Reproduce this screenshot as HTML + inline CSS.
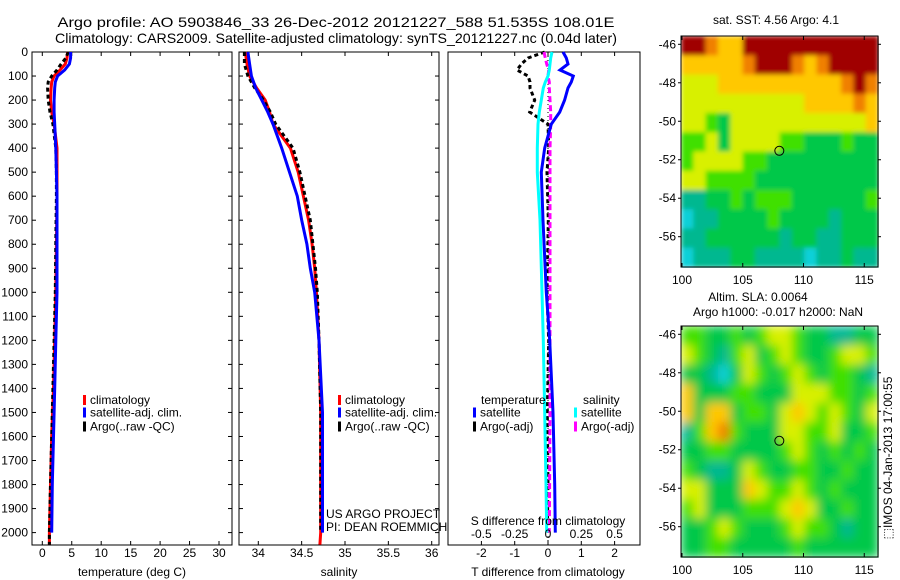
<!DOCTYPE html>
<html><head><meta charset="utf-8"><style>
body{margin:0;background:#fff;}
svg{display:block;font-family:"Liberation Sans",sans-serif;}
</style></head><body>
<svg id="fig" width="900" height="580" viewBox="0 0 900 580" xmlns="http://www.w3.org/2000/svg">
<defs>
<filter id="blurS" x="0" y="0" width="1" height="1"><feGaussianBlur stdDeviation="2.5" edgeMode="duplicate"/></filter>
<filter id="blurL" x="0" y="0" width="1" height="1"><feGaussianBlur stdDeviation="5" edgeMode="duplicate"/></filter>
</defs>
<rect width="900" height="580" fill="#fff"/>
<text x="336" y="27" font-size="14" text-anchor="middle" textLength="557" lengthAdjust="spacingAndGlyphs">Argo profile: AO 5903846_33 26-Dec-2012 20121227_588 51.535S 108.01E</text>
<text x="336" y="43" font-size="14" text-anchor="middle" textLength="562" lengthAdjust="spacingAndGlyphs">Climatology: CARS2009. Satellite-adjusted climatology: synTS_20121227.nc (0.04d later)</text>
<g id="g1"></g>
<g id="g2"></g>
<g id="g3"></g>
<g id="m1"></g>
<g id="m2"></g>
<text transform="translate(892,458) rotate(-90)" font-size="12" text-anchor="middle">⬚IMOS 04-Jan-2013 17:00:55</text>
</svg>
<script>
// ---- data ----
const depths = [0,25,50,75,100,125,150,200,250,300,400,500,600,800,1000,1200,1400,1600,1800,2000,2050];
const tempClim = [4.3,4.2,3.9,3.0,2.0,1.6,1.5,1.4,1.6,2.0,2.5,2.5,2.5,2.4,2.3,2.1,1.9,1.6,1.4,1.2,1.2];
const tempSat  = [4.8,4.8,4.6,3.8,2.6,2.2,2.1,2.0,2.0,2.1,2.3,2.4,2.5,2.5,2.5,2.3,2.1,1.9,1.7,1.6,1.6];
const tempArgo = [4.4,4.0,3.2,2.5,1.6,1.0,0.9,1.0,1.3,1.8,2.3,2.4,2.4,2.3,2.2,2.0,1.8,1.6,1.4,1.2,1.2];
const salDepths = [0,50,100,150,200,250,300,400,500,600,700,800,900,1000,1200,1500,1800,2000,2050];
const salClim = [33.85,33.87,33.9,33.98,34.08,34.13,34.17,34.37,34.46,34.52,34.58,34.62,34.65,34.67,34.70,34.72,34.72,34.72,34.71];
const salSat  = [33.88,33.9,33.92,33.97,34.04,34.11,34.17,34.27,34.36,34.45,34.5,34.56,34.6,34.65,34.7,34.74,34.74,34.74,34.74];
const salArgo = [33.84,33.84,33.88,33.96,34.06,34.14,34.2,34.4,34.48,34.54,34.6,34.63,34.66,34.68,34.7,34.72,34.72,34.72,34.72];
const diffDepths = [0,25,50,75,100,125,150,200,250,300,400,500,700,1000,1200,1500,1800,2000];
const tDiffSat  = [0.45,0.55,0.6,0.36,0.76,0.7,0.6,0.5,0.35,0.1,-0.1,-0.2,-0.15,-0.05,0.05,0.15,0.2,0.22];
const tDiffArgo = [-0.1,-0.6,-0.8,-0.93,-0.6,-0.54,-0.54,-0.4,-0.55,0,0.02,-0.03,0.01,-0.03,0.02,-0.02,0,-0.02];
const sDiffSat  = [0.03,0.02,0.015,0.01,0,-0.02,-0.035,-0.05,-0.065,-0.075,-0.08,-0.08,-0.06,-0.045,-0.035,-0.025,-0.015,-0.01];
const sDiffArgo = [-0.03,-0.02,-0.01,0.005,0,0.01,0.01,0.015,0.02,0.02,0.015,0.015,0.015,0.015,0.015,0.015,0.012,0.01];
const depthTicks = [0,100,200,300,400,500,600,700,800,900,1000,1100,1200,1300,1400,1500,1600,1700,1800,1900,2000];
const tempTicks = [0,5,10,15,20,25,30];
const salTicks = ["34","34.5","35","35.5","36"];
const tDiffTicks = [-2,-1,0,1,2];
const sDiffTicks = ["-0.5","-0.25","0","0.25","0.5"];
const lonTicks = [100,105,110,115];
const latTicks = [-46,-48,-50,-52,-54,-56];
const sstGrid = [
[9,9,8,7,7,9,9,9,9,9,9,9,9,9,9,9],
[7,7,7,7,7,8,9,9,9,8,7,8,9,9,9,9],
[6,6,6,7,7,7,7,7,7,7,7,7,7,8,9,8],
[6,6,6,6,6,6,6,6,6,6,7,7,7,7,8,7],
[6,6,5,4,6,6,6,6,6,6,6,6,6,6,6,7],
[5,5,6,4,6,6,6,6,5,5,4,4,4,5,4,4],
[5,6,6,6,6,5,5,4,4,4,4,4,4,4,4,4],
[6,6,5,5,5,5,4,4,4,4,4,4,4,4,4,4],
[3,3,4,4,5,4,5,5,5,4,4,4,4,4,4,5],
[2,3,3,4,4,4,4,5,4,4,4,4,3,4,4,4],
[3,3,4,4,4,4,4,4,3,4,4,3,3,4,4,4],
[2,3,3,3,4,4,3,3,3,3,2,3,3,4,3,3]];
const slaGrid = [
[5,5,4,4,5,4,5,6,6,5,4,4,3,3,4,4],
[6,5,4,3,5,6,4,5,6,5,4,4,5,6,6,5],
[4,4,3,2,4,6,5,4,5,6,5,4,5,5,4,3],
[7,4,4,4,5,5,4,4,4,6,6,6,5,5,4,5],
[7,4,7,7,4,5,5,4,6,7,6,5,6,5,4,6],
[3,5,7,8,5,4,4,4,6,6,5,5,6,4,4,5],
[4,4,5,5,4,4,4,4,5,6,5,4,5,4,5,4],
[5,4,3,3,4,6,5,4,4,5,5,4,4,5,4,4],
[6,6,4,4,4,7,6,5,5,6,5,4,5,4,4,4],
[5,6,4,4,4,5,5,5,6,7,6,4,4,5,4,4],
[4,4,5,6,5,4,4,4,5,6,5,5,4,3,4,4],
[4,4,5,5,4,4,4,4,4,5,4,4,4,4,4,4]];
const palette = ["#0060ff","#00a0ff","#10d0d8","#00b890","#00c848","#40e000","#d8f000","#ffc800","#f08000","#a00000"];

const NS="http://www.w3.org/2000/svg";
function mk(parent,tag,attrs,text){const e=document.createElementNS(NS,tag);for(const k in attrs)e.setAttribute(k,attrs[k]);if(text!==undefined)e.textContent=text;parent.appendChild(e);return e;}
const Y = d => 52 + d*0.2403;
const TOP=52,BOT=545;

function box(g,x0,x1,y0,y1){
  const r=mk(g,'rect',{x:x0,y:y0,width:x1-x0,height:y1-y0,fill:'none',stroke:'#000','stroke-width':1});
  
  
}
function depthAxis(g,x0,x1,labels){
  depthTicks.forEach(d=>{
    const y=Y(d);
    mk(g,'line',{x1:x0,x2:x0+4,y1:y,y2:y,stroke:'#000'});
    mk(g,'line',{x1:x1,x2:x1-4,y1:y,y2:y,stroke:'#000'});
    if(labels){const t=mk(g,'text',{x:x0-4,y:y+4,'font-size':12,'text-anchor':'end'},String(d));
      
      }
  });
}
function xTicks(g,vals,X,ylab,both){
  vals.forEach(v=>{const x=X(+v);
    mk(g,'line',{x1:x,x2:x,y1:BOT,y2:BOT-4,stroke:'#000'});
    if(both) mk(g,'line',{x1:x,x2:x,y1:TOP,y2:TOP+4,stroke:'#000'});
    if(ylab){const t=mk(g,'text',{x:x,y:ylab,'font-size':12,'text-anchor':'middle'},String(v));
      
      }
  });
}
function line(g,xs,ds,X,color,name,dash,w){
  const n=Math.min(xs.length,ds.length);
  const p=xs.slice(0,n).map((v,i)=>(i?'L':'M')+X(v).toFixed(1)+','+Y(ds[i]).toFixed(1)).join(' ');
  const e=mk(g,'path',{d:p,fill:'none',stroke:color,'stroke-width':w||3});
  if(dash)e.setAttribute('stroke-dasharray',dash);
  
  
}
function legend(g,x,items){
  items.forEach((it,i)=>{
    const y=[400,412.5,426.5][i];
    mk(g,'rect',{x:x,y:y-5,width:3,height:10,fill:it[0]});
    const t=mk(g,'text',{x:x+7,y:y+4,'font-size':12},it[1]);
    
    
  });
}
// panel 1
{const g=document.getElementById('g1');const X=v=>42.3+v*5.89;
 box(g,32,232,TOP,BOT);depthAxis(g,32,232,true);xTicks(g,tempTicks,X,557,true);
 line(g,tempClim,depths,X,'#ff0000','temp-climatology-line');
 line(g,tempArgo,depths,X,'#000','temp-argo-line','4 3');
 line(g,tempSat.slice(0,20),depths.slice(0,20),X,'#0000ff','temp-satellite-line');
 legend(g,83,[['#f00','climatology'],['#00f','satellite-adj. clim.'],['#000','Argo(..raw -QC)']]);
 const t=mk(g,'text',{x:132,y:576,'font-size':12,'text-anchor':'middle'},'temperature (deg C)');
 }
// panel 2
{const g=document.getElementById('g2');const X=v=>258.3+(v-34)*86.7;
 box(g,239,439,TOP,BOT);depthAxis(g,239,439,false);xTicks(g,salTicks,X,557,true);
 line(g,salClim,salDepths,X,'#ff0000','sal-climatology-line');
 line(g,salArgo.slice(0,18),salDepths.slice(0,18),X,'#000','sal-argo-line','4 3');
 line(g,salSat.slice(0,18),salDepths.slice(0,18),X,'#0000ff','sal-satellite-line');
 legend(g,338,[['#f00','climatology'],['#00f','satellite-adj. clim.'],['#000','Argo(..raw -QC)']]);
 let t=mk(g,'text',{x:326,y:518,'font-size':12},'US ARGO PROJECT');
 t=mk(g,'text',{x:326,y:531,'font-size':12},'PI: DEAN ROEMMICH');
 t=mk(g,'text',{x:339,y:576,'font-size':12,'text-anchor':'middle'},'salinity');}
// panel 3
{const g=document.getElementById('g3');const XT=v=>548+v*33.3;const XS=v=>548+v*133.3;
 box(g,448,640,TOP,BOT);
 xTicks(g,tDiffTicks,XT,557,true);
 mk(g,'line',{x1:548,x2:548,y1:TOP,y2:BOT,stroke:'#000','stroke-dasharray':'1 3'});
 line(g,tDiffArgo,diffDepths,XT,'#000','tdiff-argo-line','4 3');
 line(g,sDiffArgo,diffDepths,XS,'#ff00ff','sdiff-argo-line','6 3');
 line(g,sDiffSat,diffDepths,XS,'#00ffff','sdiff-satellite-line');
 line(g,tDiffSat,diffDepths,XT,'#0000ff','tdiff-satellite-line');
 sDiffTicks.forEach(v=>{const t=mk(g,'text',{x:XS(+v),y:538,'font-size':12,'text-anchor':'middle'},v);});
 let t=mk(g,'text',{x:548,y:525,'font-size':12,'text-anchor':'middle'},'S difference from climatology');
 t=mk(g,'text',{x:548,y:576,'font-size':12,'text-anchor':'middle'},'T difference from climatology');
 t=mk(g,'text',{x:481,y:404,'font-size':12},'temperature');
 t=mk(g,'text',{x:583,y:404,'font-size':12},'salinity');
 [[473,'#00f','satellite',412.5],[473,'#000','Argo(-adj)',426.5],[574,'#0ff','satellite',412.5],[574,'#f0f','Argo(-adj)',426.5]].forEach(a=>{
   mk(g,'rect',{x:a[0],y:a[3]-5,width:3,height:10,fill:a[1]});
   const e=mk(g,'text',{x:a[0]+7,y:a[3]+4,'font-size':12},a[2]);
 });}
// maps
function map(id,grid,y0,y1,lat46,lat56,titles,filt){
  const g=document.getElementById(id);
  const LX=v=>682+(v-100)*12.15;const LY=v=>lat46+(v+46)*(lat56-lat46)/(-10);
  const x0=681,x1=878;
  const rows=grid.length,cols=grid[0].length;
  const cw=(x1-x0)/cols,ch=(y1-y0)/rows;
  const cg=mk(g,'g',{filter:'url(#'+filt+')'});
  
  
  grid.forEach((row,r)=>row.forEach((v,c)=>{
    const cell=mk(cg,'rect',{x:(x0+c*cw).toFixed(2),y:(y0+r*ch).toFixed(2),width:(cw+0.6).toFixed(2),height:(ch+0.6).toFixed(2),fill:palette[v]});
    
    
  }));
  mk(g,'rect',{x:x0,y:y0,width:x1-x0,height:y1-y0,fill:'none',stroke:'#000'});
  lonTicks.forEach(v=>{const x=LX(v);mk(g,'line',{x1:x,x2:x,y1:y1,y2:y1-4,stroke:'#000'});mk(g,'line',{x1:x,x2:x,y1:y0,y2:y0+4,stroke:'#000'});
    const t=mk(g,'text',{x:x,y:y1+17,'font-size':12,'text-anchor':'middle'},String(v));});
  latTicks.forEach(v=>{const y=LY(v);mk(g,'line',{x1:x0,x2:x0-3,y1:y,y2:y,stroke:'#000'});mk(g,'line',{x1:x1,x2:x1+3,y1:y,y2:y,stroke:'#000'});
    const t=mk(g,'text',{x:x0-5,y:y+4,'font-size':12,'text-anchor':'end'},String(v));});
  const m=mk(g,'circle',{cx:LX(108.01),cy:LY(-51.535),r:4.5,fill:'none',stroke:'#000','stroke-width':1});
  
  titles.forEach(tt=>{const t=mk(g,'text',{x:tt[1],y:tt[2],'font-size':12,'text-anchor':'middle'},tt[0]);});
}
map('m1',sstGrid,36,267,44.3,236.7,[['sat. SST: 4.56 Argo: 4.1',776,24]],'blurS');
map('m2',slaGrid,326,557,334.3,526.7,[['Altim. SLA: 0.0064',758,301],['Argo h1000: -0.017 h2000: NaN',778,316]],'blurL');
</script>
</body></html>
